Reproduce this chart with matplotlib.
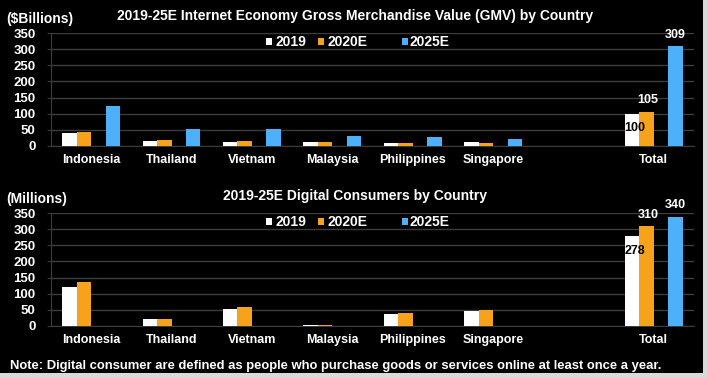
# SEA internet economy: GMV and digital consumers by country
import matplotlib
matplotlib.use('Agg')
import matplotlib.pyplot as plt
import numpy as np
from matplotlib.patches import Rectangle

plt.rcParams['font.family'] = ['Liberation Sans', 'DejaVu Sans']
plt.rcParams['font.weight'] = 'bold'

# Daten
categories = ['Indonesia', 'Thailand', 'Vietnam', 'Malaysia', 'Philippines', 'Singapore', '', 'Total']
series = ['2019', '2020E', '2025E']

gmv_2019 = [40, 16, 12, 11, 7, 10, np.nan, 100]
gmv_2020 = [44, 18, 14, 11, 7.5, 9, np.nan, 105]
gmv_2025 = [124, 53, 52, 30, 28, 22, np.nan, 309]

cons_2019 = [120, 20, 52, 3, 36, 46, np.nan, 278]
cons_2020 = [137, 20, 58, 3, 40, 50, np.nan, 310]
cons_2025 = [np.nan, np.nan, np.nan, np.nan, np.nan, np.nan, np.nan, 340]

colors = ['#ffffff', '#f7a21b', '#4db0fb']
grid_col = '#3c3c3c'

fig = plt.figure(figsize=(7.07, 3.78), dpi=100)
fig.patch.set_facecolor('#d9d9d9')
fig.add_artist(Rectangle((0, 0.012), 0.994, 0.988, transform=fig.transFigure,
                         facecolor='black', edgecolor='none', zorder=-10))

x = np.arange(len(categories))
w = 0.18

# Legende von Hand (Excel-Abstaende ungleich)
leg_sq = [0.3344, 0.4152, 0.5459]
leg_tx = [0.3499, 0.4308, 0.5583]


def panel(ax, vals):
    ax.set_facecolor('black')
    offs = [-1.5 * w, -0.5 * w, 1.5 * w]
    for v, o, c, s in zip(vals, offs, colors, series):
        ax.bar(x + o, v, w, color=c, label=s, zorder=3)
    ax.set_xlim(-0.5, len(categories) - 0.5)
    ax.set_ylim(0, 350)
    ax.set_yticks(np.arange(0, 351, 50))
    ax.set_xticks(x)
    ax.set_xticklabels(categories, fontsize=9, fontweight='bold', color='white')
    ax.tick_params(axis='x', length=0, pad=6)
    ax.tick_params(axis='y', colors=grid_col, labelcolor='white', labelsize=9.5,
                   length=3, pad=8)
    for lab in ax.get_yticklabels():
        lab.set_fontweight('bold')
    ax.grid(axis='y', color=grid_col, linewidth=1, zorder=0)
    for sp in ['top', 'right']:
        ax.spines[sp].set_visible(False)
    ax.spines['left'].set_color(grid_col)
    ax.spines['bottom'].set_color(grid_col)
    for sx, tx, c, s in zip(leg_sq, leg_tx, colors, series):
        ax.add_patch(Rectangle((sx, 0.897), 0.0101, 0.0578, transform=ax.transAxes,
                               facecolor=c, edgecolor='none', clip_on=False, zorder=6))
        ax.text(tx, 0.925, s, transform=ax.transAxes, ha='left', va='center',
                color='white', fontsize=10, fontweight='bold', zorder=6)
    return ax


ax1 = fig.add_axes([0.0721, 0.6146, 0.9095, 0.2973])
panel(ax1, [gmv_2019, gmv_2020, gmv_2025])
ax2 = fig.add_axes([0.0721, 0.1384, 0.9095, 0.2973])
panel(ax2, [cons_2019, cons_2020, cons_2025])

# Werte bei Total
t = len(categories) - 1
for ax, v19, v20, v25 in [(ax1, gmv_2019[t], gmv_2020[t], gmv_2025[t]),
                          (ax2, cons_2019[t], cons_2020[t], cons_2025[t])]:
    ax.annotate(f'{v19:.0f}', (t - 2 * w, v19), xytext=(-0.5, -6), textcoords='offset points',
                ha='left', va='top', color='black', fontsize=9, fontweight='bold', zorder=5)
    ax.annotate(f'{v20:.0f}', (t - 0.5 * w, v20), xytext=(1, 4), textcoords='offset points',
                ha='center', va='bottom', color='white', fontsize=9, fontweight='bold', zorder=5)
    ax.annotate(f'{v25:.0f}', (t + 1.5 * w, v25), xytext=(0, 4), textcoords='offset points',
                ha='center', va='bottom', color='white', fontsize=9, fontweight='bold', zorder=5)

fig.text(0.502, 0.958, '2019-25E Internet Economy Gross Merchandise Value (GMV) by Country',
         ha='center', va='center', color='white', fontsize=10, fontweight='bold')
fig.text(0.009, 0.950, '($Billions)', ha='left', va='center', color='white',
         fontsize=10, fontweight='bold')
fig.text(0.502, 0.482, '2019-25E Digital Consumers by Country',
         ha='center', va='center', color='white', fontsize=10, fontweight='bold')
fig.text(0.009, 0.474, '(Millions)', ha='left', va='center', color='white',
         fontsize=10, fontweight='bold')
fig.text(0.014, 0.032, 'Note: Digital consumer are defined as people who purchase goods or '
         'services online at least once a year.', ha='left', va='center', color='white',
         fontsize=9.4, fontweight='bold')

fig.savefig('out.png', dpi=100, facecolor=fig.get_facecolor())
